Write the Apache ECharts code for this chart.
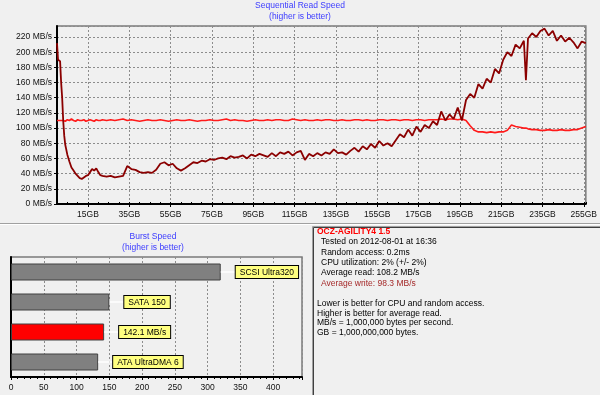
<!DOCTYPE html>
<html><head><meta charset="utf-8">
<script src="https://cdn.jsdelivr.net/npm/echarts@6/dist/echarts.min.js"></script>
<style>html,body{margin:0;padding:0;background:#f0f0f0}#c{width:600px;height:395px}</style>
</head><body><div id="c"></div>
<script>
// ---- Sequential read chart data (GB position vs MB/s) ----
const gbPositions = [
  0,0.5,1,1.5,2,2.5,3,3.5,4,5,6,7,8,9,10,11,12,13,14,15,16,17,18,19,20,21,22,
  24,26,28,30,32,34,36,38,40,42,
  44,46,48,50,52,54,56,58,60,62,
  64,66,68,70,72,74,76,78,80,82,
  84,86,88,90,92,94,96,98,100,102,
  104,106,108,110,112,114,116,118,120,122,
  124,126,128,130,132,134,136,138,140,142,
  144,146,148,150,152,154,156,158,160,162,
  164,166,168,170,172,174,176,178,180,182,
  184,186,188,190,192,194,196,
  198,200,202,204,206,208,210,212,214,216,218,220,222,224,226,
  227,
  228,230,232,234,236,238,240,242,244,246,248,250,252,254,256
];
const writeSpeeds = [
  212,190,190,188,160,140,110,90,78,65,56,48,44,40,37,34,33,35,37,38,42,46,44,47,42,38,37,
  36,37,35,36,37,50,46,45,42,41,
  42,41,45,53,55,51,53,47,44,47,
  51,55,54,57,56,59,58,60,61,59,
  63,61,62,64,60,65,63,66,64,62,
  67,63,68,66,69,64,68,70,58,66,
  63,67,64,68,66,72,67,68,65,70,
  74,69,76,72,79,74,83,77,80,76,
  84,92,88,98,90,102,95,104,100,109,
  104,122,110,118,112,127,110,
  137,145,140,158,152,165,160,178,172,190,200,195,210,205,215,
  163,
  218,225,220,228,231,222,228,215,222,214,219,213,205,214,212
];
const readSpeeds = [
  110,111,110,109,110,111,110,110,109,111,110,112,110,109,111,110,110,111,109,110,111,110,109,111,110,110,111,
  110,111,110,111,112,110,111,110,109,110,
  111,110,110,111,110,109,110,111,110,110,
  111,110,109,110,110,111,110,110,111,112,
  110,111,110,110,109,110,111,110,110,111,
  110,111,111,110,110,112,111,110,111,110,
  110,111,110,111,111,110,110,111,110,110,
  111,111,110,111,110,110,111,111,110,111,
  111,110,111,111,110,111,111,110,111,111,
  111,112,111,112,112,111,112,
  110,103,97,95,95,94,95,94,95,95,97,104,102,101,100,
  100,
  99,98,98,97,97,98,97,97,98,97,97,98,98,100,102
];
const gbTickValues = [15,35,55,75,95,115,135,155,175,195,215,235,255];

// ---- Burst speed data ----
const burstCategories = ['SCSI Ultra320','SATA 150','142.1 MB/s','ATA UltraDMA 6'];
const burstValues = [320,150,142.1,133];
const testedIndex = 2;

// ---- Info panel text ----
const driveName = 'OCZ-AGILITY4 1.5';
const infoLines = [
  'Tested on 2012-08-01 at 16:36',
  'Random access: 0.2ms',
  'CPU utilization: 2% (+/- 2%)',
  'Average read: 108.2 MB/s',
  'Average write: 98.3 MB/s'
];
const noteLines = [
  'Lower is better for CPU and random access.',
  'Higher is better for average read.',
  'MB/s = 1,000,000 bytes per second.',
  'GB = 1,000,000,000 bytes.'
];

const FF = '"Liberation Sans", Arial, sans-serif';
const FS = 8.5;
const dash = {color:'#8c8c8c', type:[2,2], width:1};

const chart = echarts.init(document.getElementById('c'), null, {renderer:'canvas'});

const graphics = [
  {type:'line', shape:{x1:0,y1:223.5,x2:600,y2:223.5}, style:{stroke:'#a0a0a0',lineWidth:1}, z:0},
  {type:'line', shape:{x1:0,y1:224.5,x2:600,y2:224.5}, style:{stroke:'#ffffff',lineWidth:1}, z:0},
  {type:'rect', shape:{x:312.5,y:226.5,width:300,height:200}, style:{fill:'none',stroke:'#a0a0a0',lineWidth:1}},
  {type:'rect', shape:{x:313.5,y:227.5,width:300,height:200}, style:{fill:'none',stroke:'#404040',lineWidth:1}},
  {type:'text', x:300, y:6, style:{text:'Sequential Read Speed', font:FS+'px '+FF, fill:'#3b3bff', align:'center', verticalAlign:'middle'}},
  {type:'text', x:300, y:16.5, style:{text:'(higher is better)', font:FS+'px '+FF, fill:'#3b3bff', align:'center', verticalAlign:'middle'}},
  {type:'text', x:153, y:236.5, style:{text:'Burst Speed', font:FS+'px '+FF, fill:'#3b3bff', align:'center', verticalAlign:'middle'}},
  {type:'text', x:153, y:247.5, style:{text:'(higher is better)', font:FS+'px '+FF, fill:'#3b3bff', align:'center', verticalAlign:'middle'}},
  {type:'text', x:317, y:231.5, style:{text:driveName, font:'bold '+FS+'px '+FF, fill:'#ff0000', align:'left', verticalAlign:'middle'}}
];
infoLines.forEach((t,i)=>{
  graphics.push({type:'text', x:321, y:242 + i*10.3, style:{text:t, font:FS+'px '+FF, fill: i===4 ? '#a52a2a' : '#000', align:'left', verticalAlign:'middle'}});
});
noteLines.forEach((t,i)=>{
  graphics.push({type:'text', x:317, y:304 + i*9.5, style:{text:t, font:FS+'px '+FF, fill:'#000', align:'left', verticalAlign:'middle'}});
});

const option = {
  animation:false,
  backgroundColor:'#f0f0f0',
  textStyle:{fontFamily:FF, fontSize:FS},
  grid:[
    {left:57, top:26, right:13, bottom:191, show:true, borderColor:'#7a7a7a', borderWidth:1.5, backgroundColor:'transparent'},
    {left:11, top:257, right:298, bottom:18, show:true, borderColor:'#7a7a7a', borderWidth:1.5, backgroundColor:'transparent'}
  ],
  xAxis:[
    {type:'value', gridIndex:0, min:0, max:256,
     axisLine:{show:true, onZero:false, lineStyle:{color:'#000', width:2}},
     axisTick:{show:true, length:3, customValues:gbTickValues, lineStyle:{color:'#000'}},
     axisLabel:{customValues:gbTickValues, formatter:v=>v+'GB', color:'#111', fontSize:FS, fontFamily:FF, margin:6},
     splitLine:{show:true, lineStyle:dash}},
    {type:'value', gridIndex:0, min:0, max:256, interval:5,
     axisLine:{show:false}, axisLabel:{show:false}, splitLine:{show:false},
     axisTick:{show:true, length:2, lineStyle:{color:'#000'}}},
    {type:'value', gridIndex:1, min:0, max:444, interval:50,
     axisLine:{show:true, onZero:false, lineStyle:{color:'#000', width:2}},
     axisTick:{show:true, length:3, lineStyle:{color:'#000'}},
     minorTick:{show:true, splitNumber:5, length:2, lineStyle:{color:'#000'}},
     axisLabel:{showMaxLabel:false, color:'#111', fontSize:FS, fontFamily:FF, margin:6},
     splitLine:{show:true, lineStyle:dash}}
  ],
  yAxis:[
    {type:'value', gridIndex:0, min:0, max:234.5, interval:20,
     axisLine:{show:true, onZero:false, lineStyle:{color:'#000', width:2}},
     axisTick:{show:true, length:3, lineStyle:{color:'#000'}},
     axisLabel:{showMaxLabel:false, formatter:v=>v+' MB/s', color:'#111', fontSize:FS, fontFamily:FF, margin:5},
     splitLine:{show:true, lineStyle:dash}},
    {type:'category', gridIndex:1, data:burstCategories, inverse:true,
     axisLine:{show:true, lineStyle:{color:'#000', width:2}},
     axisTick:{show:false}, axisLabel:{show:false}, splitLine:{show:false}}
  ],
  series:[
    {type:'line', xAxisIndex:0, yAxisIndex:0, showSymbol:false, symbol:'none',
     data: gbPositions.map((g,i)=>[g, readSpeeds[i]]),
     lineStyle:{color:'#ff1a1a', width:1.6}, z:3},
    {type:'line', xAxisIndex:0, yAxisIndex:0, showSymbol:false, symbol:'none',
     data: gbPositions.map((g,i)=>[g, writeSpeeds[i]]),
     lineStyle:{color:'#8b0000', width:1.8}, z:4},
    {type:'bar', xAxisIndex:2, yAxisIndex:1, barWidth:17,
     data: burstValues.map((v,i)=>({value:v, itemStyle:{color: i===testedIndex ? '#ff0000' : '#808080'}})),
     itemStyle:{borderColor:'#404040', borderWidth:1},
     label:{show:true, position:'right', distance:0,
       formatter: p => '{ln|}{box|' + burstCategories[p.dataIndex] + '}',
       rich:{
         ln:{width:15, height:1.5, backgroundColor:'#ffffff'},
         box:{backgroundColor:'#ffff80', borderColor:'#000', borderWidth:1, padding:[2,4,1,4], color:'#000', fontSize:FS, fontFamily:FF}
       }}}
  ],
  graphic: graphics
};
chart.setOption(option);
</script></body></html>
